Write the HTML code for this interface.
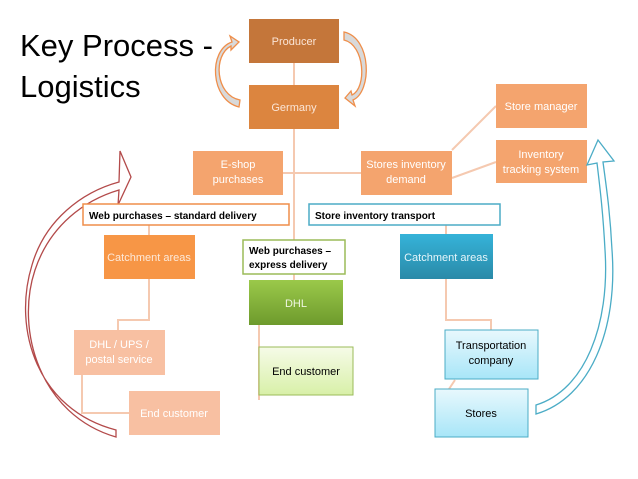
<!DOCTYPE html>
<html><head><meta charset="utf-8"><style>
body{margin:0;background:#fff;}
svg{display:block;font-family:"Liberation Sans",sans-serif;}
</style></head><body>
<svg width="638" height="479" viewBox="0 0 638 479">
<rect width="638" height="479" fill="#fff"/>
<text x="20" y="56" font-size="31" fill="#000">Key Process -</text>
<text x="20" y="97" font-size="31" fill="#000">Logistics</text>
<g stroke="#f5c9b0" stroke-width="2" fill="none">
<line x1="294" y1="63" x2="294" y2="85"/>
<line x1="294" y1="129" x2="294" y2="240"/>
<line x1="283" y1="173" x2="361" y2="173"/>
<line x1="452" y1="150" x2="496" y2="106"/>
<line x1="452" y1="178" x2="496" y2="162"/>
<line x1="149" y1="225" x2="149" y2="235"/>
<line x1="446" y1="225" x2="446" y2="234"/>
<polyline points="149,279 149,320 118,320 118,330"/>
<polyline points="82,375 82,413 129,413"/>
<polyline points="446,279 446,320 491,320 491,330"/>
<line x1="294" y1="274" x2="294" y2="280"/>
<polyline points="259,325 259,400"/>
<line x1="455" y1="380" x2="449" y2="389"/>
</g>
<rect x="249" y="19" width="90" height="44" fill="#c4763a"/>
<text x="294" y="45" font-size="11" fill="#fbe5d6" text-anchor="middle">Producer</text>
<rect x="249" y="85" width="90" height="44" fill="#dc853f"/>
<text x="294" y="111" font-size="11" fill="#fbe5d6" text-anchor="middle">Germany</text>
<rect x="193" y="151" width="90" height="44" fill="#f4a46e"/>
<text x="238" y="168" font-size="11" fill="#fff" text-anchor="middle">E-shop</text>
<text x="238" y="183" font-size="11" fill="#fff" text-anchor="middle">purchases</text>
<rect x="361" y="151" width="91" height="44" fill="#f4a46e"/>
<text x="406" y="168" font-size="11" fill="#fff" text-anchor="middle">Stores inventory</text>
<text x="406" y="183" font-size="11" fill="#fff" text-anchor="middle">demand</text>
<rect x="496" y="84" width="91" height="44" fill="#f4a46e"/>
<text x="541" y="110" font-size="11" fill="#fff" text-anchor="middle">Store manager</text>
<rect x="496" y="140" width="91" height="43" fill="#f4a46e"/>
<text x="541" y="158" font-size="11" fill="#fff" text-anchor="middle">Inventory</text>
<text x="541" y="173" font-size="11" fill="#fff" text-anchor="middle">tracking system</text>
<path d="M116,437 C40,415 15,330 35,270 C50,225 85,200 119,190 L118,205 L131,177 L120,151 L119,182 C82,192 45,220 32,265 C12,330 38,410 116,430 Z" fill="#fff" stroke="#b34a4a" stroke-width="1.3"/>
<path d="M536,414 C590,398 618,330 612,250 C610,210 606,185 603,162 L614,161 L598,140 L587,165 L597,163 C600,188 603,212 605,250 C610,325 585,390 536,405 Z" fill="#fff" stroke="#4bacc6" stroke-width="1.3"/>
<rect x="83" y="204" width="206" height="21" fill="#fff" stroke="#ef8e4a" stroke-width="1.5"/>
<text x="89" y="219" font-size="10" font-weight="bold" fill="#000">Web purchases – standard delivery</text>
<rect x="309" y="204" width="191" height="21" fill="#fff" stroke="#4bacc6" stroke-width="1.5"/>
<text x="315" y="219" font-size="10" font-weight="bold" fill="#000">Store inventory transport</text>
<rect x="104" y="235" width="91" height="44" fill="#f79646"/>
<text x="149" y="261" font-size="11" fill="#fde9d9" text-anchor="middle">Catchment areas</text>
<defs>
<linearGradient id="tg" x1="0" y1="0" x2="0" y2="1"><stop offset="0" stop-color="#35b3d9"/><stop offset="1" stop-color="#2a8aa8"/></linearGradient>
<linearGradient id="gg" x1="0" y1="0" x2="0" y2="1"><stop offset="0" stop-color="#9bc94a"/><stop offset="1" stop-color="#6e9a2c"/></linearGradient>
<linearGradient id="lg" x1="0" y1="0" x2="0" y2="1"><stop offset="0" stop-color="#f6fbe8"/><stop offset="1" stop-color="#d8f0a8"/></linearGradient>
<linearGradient id="bg" x1="0" y1="0" x2="0" y2="1"><stop offset="0" stop-color="#e8f8fd"/><stop offset="1" stop-color="#a8e6f8"/></linearGradient>
</defs>
<rect x="400" y="234" width="93" height="45" fill="url(#tg)"/>
<text x="446" y="261" font-size="11" fill="#e6f6fb" text-anchor="middle">Catchment areas</text>
<rect x="243" y="240" width="102" height="34" fill="#fff" stroke="#9bbb59" stroke-width="1.5"/>
<text x="249" y="254" font-size="10" font-weight="bold" fill="#000">Web purchases –</text>
<text x="249" y="268" font-size="10" font-weight="bold" fill="#000">express delivery</text>
<rect x="249" y="280" width="94" height="45" fill="url(#gg)"/>
<text x="296" y="307" font-size="11" fill="#eef6e0" text-anchor="middle">DHL</text>
<rect x="259" y="347" width="94" height="48" fill="url(#lg)" stroke="#9bbb59"/>
<text x="306" y="375" font-size="11" fill="#000" text-anchor="middle">End customer</text>
<rect x="74" y="330" width="91" height="45" fill="#f8c0a2"/>
<text x="119" y="348" font-size="11" fill="#fff" text-anchor="middle">DHL / UPS /</text>
<text x="119" y="363" font-size="11" fill="#fff" text-anchor="middle">postal service</text>
<rect x="129" y="391" width="91" height="44" fill="#f8c0a2"/>
<text x="174" y="417" font-size="11" fill="#fff" text-anchor="middle">End customer</text>
<rect x="445" y="330" width="93" height="49" fill="url(#bg)" stroke="#4bacc6"/>
<text x="491" y="349" font-size="11" fill="#000" text-anchor="middle">Transportation</text>
<text x="491" y="364" font-size="11" fill="#000" text-anchor="middle">company</text>
<rect x="435" y="389" width="93" height="48" fill="url(#bg)" stroke="#4bacc6"/>
<text x="481" y="417" font-size="11" fill="#000" text-anchor="middle">Stores</text>
<path d="M239,107 C210,100 208,50 232,42 L230,36 L239,42 L231,50 L231,46 C213,55 215,95 240,100 Z" fill="#d9d9d9" stroke="#ef8e4a" stroke-width="1.3"/>
<path d="M344,32 C372,38 372,92 353,100 L355,106 L345,98 L351,91 L352,95 C367,88 365,45 344,40 Z" fill="#d9d9d9" stroke="#ef8e4a" stroke-width="1.3"/>
</svg>
</body></html>
